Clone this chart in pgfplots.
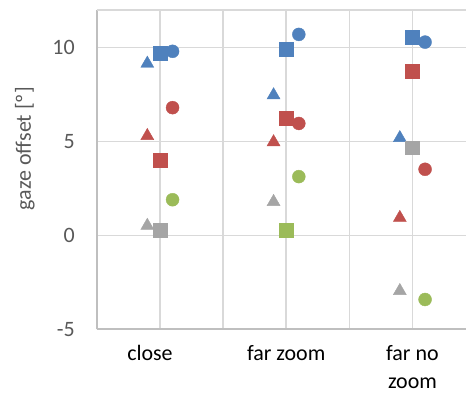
\documentclass[border=0pt]{standalone}
\usepackage{pgfplots}
\pgfplotsset{compat=1.18}
\usepackage{fontspec}
\setmainfont{Carlito}

\definecolor{sblue}{HTML}{4F81BD}
\definecolor{sred}{HTML}{C0504D}
\definecolor{sgreen}{HTML}{9BBB59}
\definecolor{sgray}{HTML}{A5A5A5}
\definecolor{gridgray}{HTML}{D9D9D9}
\definecolor{axisgray}{HTML}{BFBFBF}
\definecolor{labelgray}{HTML}{595959}

% marker shapes shared by the series
\pgfplotsset{
  tri/.style={only marks, mark=triangle*, mark size=7.5bp,
    mark options={draw=#1, fill=#1, yshift=-1.9bp}},
  sq/.style={only marks, mark=square*, mark size=7bp,
    mark options={draw=#1, fill=#1}},
  circ/.style={only marks, mark=*, mark size=6.5bp,
    mark options={draw=#1, fill=#1}},
}

\begin{document}
\begin{tikzpicture}
\begin{axis}[
  scale only axis,
  width=370bp, height=320bp,
  xmin=0, xmax=5.85, ymin=-5, ymax=12,
  xtick={0,1,2,3,4,5},
  xticklabels={,close\hspace*{20bp},,far zoom,,far no\\zoom},
  ytick={-5,0,5,10},
  extra y ticks={12}, extra y tick labels={},
  extra tick style={grid=major},
  grid=major,
  major grid style={color=gridgray, line width=1.4bp},
  axis x line*=bottom, axis y line*=left,
  axis line style={color=axisgray, line width=1.8bp, -},
  major tick length=0pt,
  /pgf/number format/assume math mode=true,
  xticklabel style={align=center, anchor=north, inner sep=0pt, yshift=-16bp,
    text=black, font=\fontsize{22bp}{28bp}\selectfont},
  yticklabel style={anchor=east, inner sep=0pt, xshift=-22bp,
    text=labelgray, font=\fontsize{22bp}{26bp}\selectfont},
  ylabel={gaze offset [º]},
  ylabel style={at={(axis description cs:-0.195,0.566)}, anchor=center,
    text=labelgray, font=\fontsize{22bp}{26bp}\selectfont},
  clip=false,
]
% blue series
\addplot[tri=sblue]  coordinates {(0.8,9.25) (2.8,7.57) (4.8,5.29)};
\addplot[sq=sblue]   coordinates {(1,9.7) (3,9.9) (5,10.55)};
\addplot[circ=sblue] coordinates {(1.2,9.8) (3.2,10.7) (5.2,10.29)};
% red series
\addplot[tri=sred]   coordinates {(0.8,5.4) (2.8,5.07) (4.8,1.04)};
\addplot[sq=sred]    coordinates {(1,4.0) (3,6.26) (5,8.75)};
\addplot[circ=sred]  coordinates {(1.2,6.8) (3.2,5.96) (5.2,3.52)};
% green series
\addplot[circ=sgreen] coordinates {(1.2,1.9) (3.2,3.13) (5.2,-3.41)};
% gray series
\addplot[tri=sgray]  coordinates {(0.8,0.62) (2.8,1.89) (4.8,-2.85)};
\addplot[sq=sgray]   coordinates {(1,0.3) (5,4.67)};
\addplot[sq=sgreen]  coordinates {(3,0.27)};
\end{axis}
% page margins around the plot area
\path (current axis.south west) ++(-97bp,-64bp) (current axis.north east) ++(0,10bp);
\end{tikzpicture}
\end{document}
